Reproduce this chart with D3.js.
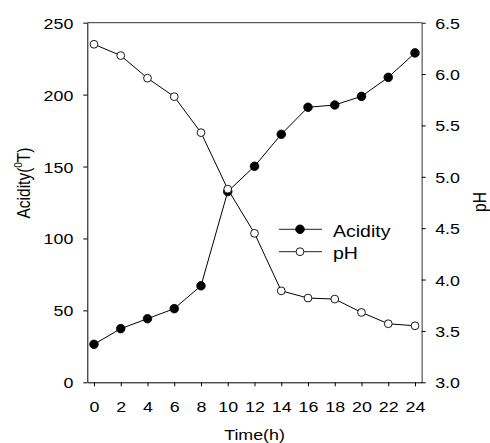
<!DOCTYPE html>
<html>
<head>
<meta charset="utf-8">
<script src="https://cdn.jsdelivr.net/npm/d3@7"></script>
<style>
  html, body { margin: 0; padding: 0; background: #fff; }
  svg text { font-family: "Liberation Sans", Arial, sans-serif; fill: #000; }
</style>
</head>
<body>
<svg id="chart" width="490" height="443"></svg>
<script>
const times = [0, 2, 4, 6, 8, 10, 12, 14, 16, 18, 20, 22, 24];
const acidity = [26.4, 37.3, 44.2, 51.2, 67.1, 132.6, 150.2, 172.4, 191.2, 192.8, 198.8, 212, 229];
const pH = [6.29, 6.18, 5.96, 5.78, 5.43, 4.88, 4.45, 3.89, 3.82, 3.81, 3.68, 3.57, 3.55];
const xTicks = [0, 2, 4, 6, 8, 10, 12, 14, 16, 18, 20, 22, 24];
const leftTicks = [0, 50, 100, 150, 200, 250];
const rightTicks = [3.0, 3.5, 4.0, 4.5, 5.0, 5.5, 6.0, 6.5];
const seriesNames = ["Acidity", "pH"];

const SX = 1.15; // horizontal stretch of the reference glyphs
const L = 87.3, R = 421.7, T = 22.7, B = 382.3;

const svg = d3.select("#chart");
const x = d3.scaleLinear().domain([-0.5, 24.5]).range([L, R]);
const yL = d3.scaleLinear().domain([0, 250]).range([B, T]);
const yR = d3.scaleLinear().domain([3.0, 6.5]).range([B, T]);

// top border
svg.append("line").attr("x1", L).attr("x2", R).attr("y1", T).attr("y2", T)
  .attr("stroke", "#333").attr("stroke-width", 1);

// left axis
const gL = svg.append("g").attr("transform", `translate(${L},0)`)
  .call(d3.axisLeft(yL).tickValues(leftTicks).tickSize(4).tickSizeOuter(0));
gL.select(".domain").attr("stroke", "#000");
gL.selectAll(".tick line").attr("stroke", "#000");
gL.selectAll(".tick text").attr("x", null).attr("dy", null)
  .attr("transform", `translate(-14,5.5) scale(${SX},1)`)
  .attr("font-size", 15.5).attr("text-anchor", "end");

// right axis
const gR = svg.append("g").attr("transform", `translate(${R},0)`)
  .call(d3.axisRight(yR).tickValues(rightTicks).tickSize(4).tickSizeOuter(0)
    .tickFormat(d3.format(".1f")));
gR.select(".domain").attr("stroke", "#808080").attr("stroke-width", 1.6);
gR.selectAll(".tick line").attr("stroke", "#000");
gR.selectAll(".tick text").attr("x", null).attr("dy", null)
  .attr("transform", `translate(13.5,5.5) scale(${SX},1)`)
  .attr("font-size", 15.5).attr("text-anchor", "start");

// bottom axis
const gB = svg.append("g").attr("transform", `translate(0,${B})`)
  .call(d3.axisBottom(x).tickValues(xTicks).tickSize(4).tickSizeOuter(0));
gB.select(".domain").attr("stroke", "#000");
gB.selectAll(".tick line").attr("stroke", "#000");
gB.selectAll(".tick text").attr("y", null).attr("dy", null)
  .attr("transform", `translate(0,29.4) scale(${SX},1)`)
  .attr("font-size", 15.5).attr("text-anchor", "middle");

// axis titles
svg.append("text").attr("font-size", 15.5).attr("text-anchor", "middle")
  .attr("transform", `translate(${(L + R) / 2},440) scale(${SX},1)`)
  .text("Time(h)");

const yt = svg.append("text").attr("font-size", 15.5).attr("text-anchor", "middle")
  .attr("transform", `translate(30,183) scale(${SX},1) rotate(-90)`);
yt.append("tspan").text("Acidity(");
yt.append("tspan").attr("font-size", 10).attr("dy", -7).text("0");
yt.append("tspan").attr("dy", 7).text("T)");

svg.append("text").attr("font-size", 15.5).attr("text-anchor", "middle")
  .attr("transform", `translate(486,202) scale(${SX},1) rotate(-90)`)
  .text("pH");

// series
const accData = times.map((t, i) => ({ t, v: acidity[i] }));
const phData = times.map((t, i) => ({ t, v: pH[i] }));

const lineL = d3.line().x(d => x(d.t)).y(d => yL(d.v));
const lineR = d3.line().x(d => x(d.t)).y(d => yR(d.v));

svg.append("path").datum(accData).attr("d", lineL)
  .attr("fill", "none").attr("stroke", "#000").attr("stroke-width", 1);
svg.append("g").selectAll("circle").data(accData).join("circle")
  .attr("cx", d => x(d.t)).attr("cy", d => yL(d.v)).attr("r", 4.3)
  .attr("fill", "#000").attr("stroke", "#000").attr("stroke-width", 0.8);

svg.append("path").datum(phData).attr("d", lineR)
  .attr("fill", "none").attr("stroke", "#000").attr("stroke-width", 1);
svg.append("g").selectAll("circle").data(phData).join("circle")
  .attr("cx", d => x(d.t)).attr("cy", d => yR(d.v)).attr("r", 3.9)
  .attr("fill", "#fff").attr("stroke", "#000").attr("stroke-width", 0.9);

// legend
const legY = [229.3, 251.7];
const leg = svg.append("g");
seriesNames.forEach((name, i) => {
  leg.append("line").attr("x1", 279).attr("x2", 322).attr("y1", legY[i]).attr("y2", legY[i])
    .attr("stroke", "#222").attr("stroke-width", 1);
  leg.append("circle").attr("cx", 300).attr("cy", legY[i]).attr("r", i === 0 ? 4.3 : 3.9)
    .attr("fill", i === 0 ? "#000" : "#fff").attr("stroke", "#000").attr("stroke-width", 0.9);
  leg.append("text").attr("font-size", 17)
    .attr("transform", `translate(333,${legY[i] + 7.5}) scale(${SX},1)`)
    .text(name);
});
</script>
</body>
</html>
